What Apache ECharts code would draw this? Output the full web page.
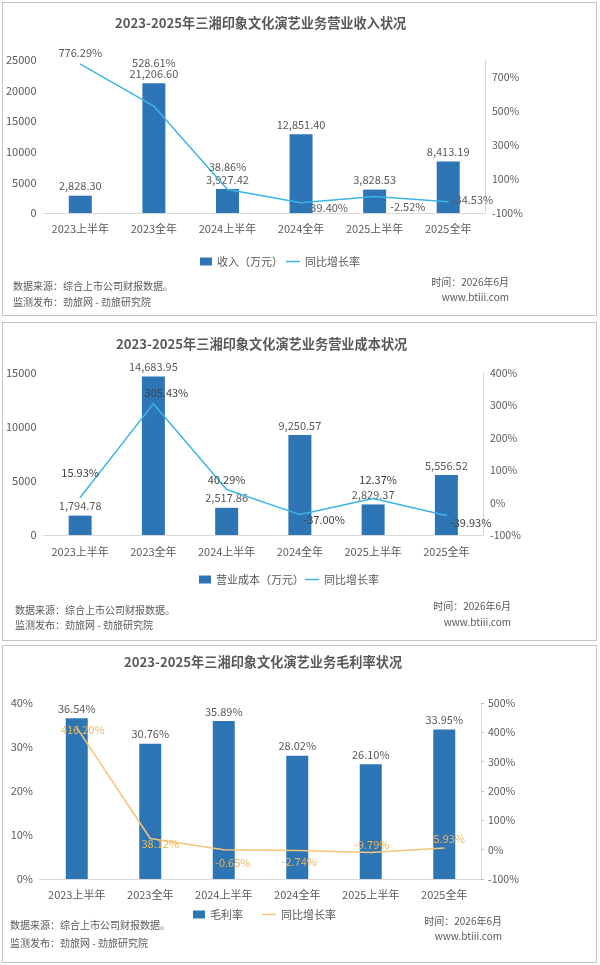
<!DOCTYPE html>
<html>
<head>
<meta charset="utf-8">
<script src="https://cdn.jsdelivr.net/npm/echarts@6/dist/echarts.min.js"></script>
<style>
  html, body { margin: 0; padding: 0; background: #fff; }
  .panel { position: absolute; left: 2px; width: 595px; box-sizing: border-box; border: 1px solid #c4c4c4; background: #fff; }
  .panel div { width: 100%; height: 100%; }
</style>
</head>
<body>
<div class="panel" style="top:2px;height:314px"><div id="c1"></div></div>
<div class="panel" style="top:322px;height:319px"><div id="c2"></div></div>
<div class="panel" style="top:645px;height:318px"><div id="c3"></div></div>
<script>
// 数据
var categories = ['2023上半年', '2023全年', '2024上半年', '2024全年', '2025上半年', '2025全年'];
var revenue = [2828.30, 21206.60, 3927.42, 12851.40, 3828.53, 8413.19];
var revenueGrowth = [776.29, 528.61, 38.86, -39.40, -2.52, -34.53];
var cost = [1794.78, 14683.95, 2517.86, 9250.57, 2829.37, 5556.52];
var costGrowth = [15.93, 305.43, 40.29, -37.00, 12.37, -39.93];
var margin = [36.54, 30.76, 35.89, 28.02, 26.10, 33.95];
var marginGrowth = [416.20, 38.12, -0.65, -2.74, -9.79, 5.93];

var FONT = '"Noto Sans CJK SC", "Noto Sans", sans-serif';
var GRAY = '#595959';
var BAR = '#2E75B6';

function money(v) {
  return v.toLocaleString('en-US', { minimumFractionDigits: 2, maximumFractionDigits: 2 });
}
function pct(v) { return v.toFixed(2) + '%'; }

// 折线标签位置（样式）
function lineData(values, places) {
  return values.map(function (v, i) {
    return { value: v, label: { position: places[i][0], offset: places[i][1] } };
  });
}

function footer(l, r) {
  var t = function (text, x, y, align) {
    return { type: 'text', x: x, y: y, style: { text: text, fill: GRAY, fontSize: 10, fontFamily: FONT, align: align, verticalAlign: 'middle' } };
  };
  return [
    t('数据来源：综合上市公司财报数据。', l[0], l[1], 'left'),
    t('监测发布：劲旅网 - 劲旅研究院', l[0], l[2], 'left'),
    t('时间：2026年6月', r[0], r[1], 'right'),
    t('www.btiii.com', r[0], r[2], 'right')
  ];
}

function build(cfg) {
  var legendText = { fontSize: 11, color: GRAY, fontFamily: FONT };
  return {
    animation: false,
    textStyle: { fontFamily: FONT },
    title: {
      text: cfg.title, left: cfg.titleLeft, top: cfg.titleTop,
      textStyle: { fontSize: 13.2, fontWeight: 'bold', color: GRAY, fontFamily: FONT }
    },
    legend: [
      {
        left: cfg.legendLeft[0], top: cfg.legendTop, itemWidth: 12, itemHeight: 8,
        textStyle: legendText, data: [{ name: cfg.barName, icon: 'rect' }]
      },
      {
        left: cfg.legendLeft[1], top: cfg.legendTop, itemWidth: 14, itemHeight: 1.5,
        textStyle: legendText, data: [{ name: '同比增长率', icon: 'rect' }]
      }
    ],
    grid: cfg.grid,
    xAxis: {
      type: 'category', data: categories,
      axisLine: { lineStyle: { color: '#d9d9d9' } },
      axisTick: { show: false },
      axisLabel: { color: GRAY, fontSize: 11, margin: cfg.xMargin, interval: 0, fontFamily: FONT }
    },
    yAxis: [
      {
        type: 'value', min: cfg.left[0], max: cfg.left[1], interval: cfg.left[2],
        splitLine: { show: false }, axisLine: { show: false }, axisTick: { show: false },
        axisLabel: { color: GRAY, fontSize: 11, margin: 7, formatter: function (v) { return v + cfg.leftUnit; } }
      },
      {
        type: 'value', min: cfg.right[0], max: cfg.right[1], interval: cfg.right[2],
        splitLine: { show: false },
        axisLine: { show: true, lineStyle: { color: '#d9d9d9' } },
        axisTick: { show: cfg.rightTicks, length: 3, lineStyle: { color: '#bfbfbf' } },
        axisLabel: {
          color: GRAY, fontSize: 10.5, margin: 7,
          formatter: function (v) { return v > cfg.right[3] ? '' : v + '%'; }
        }
      }
    ],
    series: [
      {
        name: cfg.barName, type: 'bar', data: cfg.bars, barWidth: cfg.barWidth,
        itemStyle: { color: BAR },
        label: { show: true, position: 'top', distance: 4, color: GRAY, fontSize: 11, formatter: cfg.barFmt }
      },
      {
        name: '同比增长率', type: 'line', yAxisIndex: 1,
        data: lineData(cfg.line, cfg.linePlaces),
        symbol: 'circle', symbolSize: 1,
        lineStyle: { color: cfg.lineColor, width: 1.5 },
        itemStyle: { color: cfg.lineColor },
        label: {
          show: true, color: cfg.lineLabelColor, fontSize: 11,
          formatter: function (p) { return pct(p.value); }
        }
      }
    ],
    graphic: footer(cfg.footL, cfg.footR)
  };
}

var c1 = echarts.init(document.getElementById('c1'));
c1.setOption(build({
  title: '2023-2025年三湘印象文化演艺业务营业收入状况', titleLeft: 107, titleTop: 8,
  barName: '收入（万元）', legendLeft: [192, 278], legendTop: 248,
  grid: { left: 40, top: 57, width: 442, height: 153 },
  xMargin: 10,
  left: [0, 25000, 5000], leftUnit: '',
  right: [-100, 800, 200, 700], rightTicks: false,
  bars: revenue, barWidth: 23, barFmt: function (p) { return money(p.value); },
  line: revenueGrowth, lineColor: '#3DB5E6', lineLabelColor: GRAY,
  linePlaces: [
    ['top', [0, 0]], ['top', [0, -32]], ['top', [0, -12]],
    ['right', [0, 5]], ['right', [10, 10]], ['right', [-2, -2]]
  ],
  footL: [10, 283, 299], footR: [506, 279, 294]
}));

var c2 = echarts.init(document.getElementById('c2'));
c2.setOption(build({
  title: '2023-2025年三湘印象文化演艺业务营业成本状况', titleLeft: 108, titleTop: 9,
  barName: '营业成本（万元）', legendLeft: [191, 297], legendTop: 246,
  grid: { left: 38, top: 50, width: 442, height: 162 },
  xMargin: 11,
  left: [0, 15000, 5000], leftUnit: '',
  right: [-100, 400, 100, 400], rightTicks: false,
  bars: cost, barWidth: 23, barFmt: function (p) { return money(p.value); },
  line: costGrowth, lineColor: '#3DB5E6', lineLabelColor: '#404040',
  linePlaces: [
    ['top', [0, -14]], ['top', [13, 0]], ['top', [0, 1]],
    ['right', [-2, 5]], ['top', [5, -8]], ['right', [-2, 7]]
  ],
  footL: [12, 287, 302], footR: [508, 283, 299]
}));

var c3 = echarts.init(document.getElementById('c3'));
c3.setOption(build({
  title: '2023-2025年三湘印象文化演艺业务毛利率状况', titleLeft: 116, titleTop: 4,
  barName: '毛利率', legendLeft: [185, 254], legendTop: 258,
  grid: { left: 37, top: 57, width: 441, height: 176 },
  xMargin: 10,
  left: [0, 40, 10], leftUnit: '%',
  right: [-100, 500, 100, 500], rightTicks: true,
  bars: margin, barWidth: 22, barFmt: function (p) { return pct(p.value); },
  line: marginGrowth, lineColor: '#F5C57A', lineLabelColor: '#F0B550',
  linePlaces: [
    ['inside', [6, 2]], ['inside', [10, 5]], ['inside', [9, 13]],
    ['inside', [2, 11]], ['inside', [1, -8]], ['inside', [5, -9]]
  ],
  footL: [7, 279, 297], footR: [499, 275, 290]
}));
</script>
</body>
</html>
